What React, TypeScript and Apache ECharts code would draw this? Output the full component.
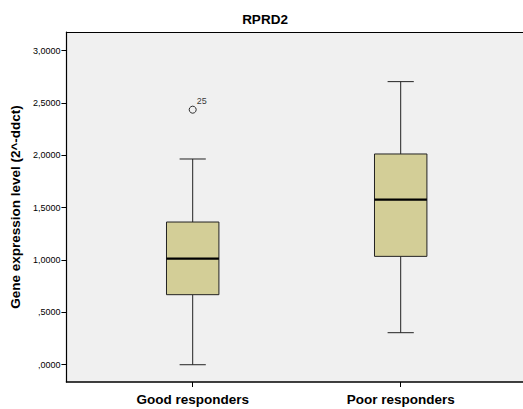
import React, { useEffect, useRef } from "react";
import * as echarts from "echarts";

const titleText = "RPRD2";
const yAxisName = "Gene expression level (2^-ddct)";
const categories = ["Good responders", "Poor responders"];
// [min, Q1, median, Q3, max]
const goodStats = [0.0, 0.669, 1.013, 1.363, 1.965];
const poorStats = [0.306, 1.035, 1.576, 2.013, 2.704];
const outlierCategory = [0];
const outlierValues = [2.436];
const outlierIds = ["25"];
const yTickValues = [0, 0.5, 1, 1.5, 2, 2.5, 3];
const yTickLabels = [",0000", ",5000", "1,0000", "1,5000", "2,0000", "2,5000", "3,0000"];
const yMin = -0.165;
const yMax = 3.178;

const FONT = "'Liberation Sans', Arial, sans-serif";

export default function App() {
  const ref = useRef<HTMLDivElement>(null);
  useEffect(() => {
    document.body.style.margin = "0";
    const chart = echarts.init(ref.current!, null, { renderer: "svg" });
    const boxData = [goodStats, poorStats].map((s, i) => [i, ...s]);
    const outlierData = outlierValues.map((v, i) => [outlierCategory[i], v]);
    const option: any = {
      animation: false,
      backgroundColor: "#ffffff",
      textStyle: { fontFamily: FONT },
      graphic: [
        {
          type: "text",
          x: 265,
          y: 19,
          style: {
            text: titleText,
            fontFamily: FONT,
            fontWeight: "bold",
            fontSize: 13.5,
            fill: "#000",
            align: "center",
            verticalAlign: "middle",
          },
        },
      ],
      grid: [
        { left: 65, right: 0, top: 32, bottom: 27, show: true, backgroundColor: "#f0f0f0", borderWidth: 0 },
        { left: 88.7, width: 416, top: 32, bottom: 27 },
      ],
      xAxis: [
        {
          gridIndex: 0,
          type: "value",
          min: 0,
          max: 1,
          position: "bottom",
          axisLine: { show: true, onZero: false, lineStyle: { color: "#000", width: 1.5 } },
          axisTick: { show: false },
          axisLabel: { show: false },
          splitLine: { show: false },
        },
        {
          gridIndex: 0,
          type: "value",
          min: 0,
          max: 1,
          position: "top",
          axisLine: { show: true, onZero: false, lineStyle: { color: "#000", width: 1.2 } },
          axisTick: { show: false },
          axisLabel: { show: false },
          splitLine: { show: false },
        },
        {
          gridIndex: 1,
          type: "category",
          data: categories,
          axisLine: { show: false, onZero: false },
          axisTick: { show: true, alignWithLabel: true, length: 5, lineStyle: { color: "#000" } },
          axisLabel: {
            margin: 10,
            color: "#000",
            fontFamily: FONT,
            fontWeight: "bold",
            fontSize: 13.5,
          },
          splitLine: { show: false },
        },
      ],
      yAxis: [
        {
          gridIndex: 0,
          type: "value",
          min: yMin,
          max: yMax,
          name: yAxisName,
          nameLocation: "middle",
          nameGap: 44,
          nameTextStyle: { color: "#000", fontFamily: FONT, fontWeight: "bold", fontSize: 13.5 },
          axisLine: { show: true, onZero: false, lineStyle: { color: "#000", width: 1.2 } },
          axisTick: { show: true, length: 5, customValues: yTickValues, lineStyle: { color: "#000" } },
          axisLabel: {
            show: true,
            margin: 6,
            customValues: yTickValues,
            color: "#000",
            fontFamily: FONT,
            fontSize: 9,
            formatter: (v: number) => {
              const idx = yTickValues.findIndex((t) => Math.abs(t - v) < 1e-9);
              return idx >= 0 ? yTickLabels[idx] : "";
            },
          },
          splitLine: { show: false },
        },
        {
          gridIndex: 1,
          type: "value",
          min: yMin,
          max: yMax,
          show: false,
          splitLine: { show: false },
        },
      ],
      series: [
        {
          type: "custom",
          xAxisIndex: 2,
          yAxisIndex: 1,
          data: boxData,
          z: 3,
          renderItem: (params: any, api: any) => {
            const x = api.value(0);
            const lo = api.coord([x, api.value(1)]);
            const q1 = api.coord([x, api.value(2)]);
            const md = api.coord([x, api.value(3)]);
            const q3 = api.coord([x, api.value(4)]);
            const hi = api.coord([x, api.value(5)]);
            const band = api.size([1, 0])[0];
            const bw = band * 0.252;
            const cw = bw / 2;
            const cx = lo[0];
            const stroke = { stroke: "#222", lineWidth: 1 };
            return {
              type: "group",
              children: [
                { type: "line", shape: { x1: cx, y1: hi[1], x2: cx, y2: q3[1] }, style: stroke },
                { type: "line", shape: { x1: cx, y1: q1[1], x2: cx, y2: lo[1] }, style: stroke },
                { type: "line", shape: { x1: cx - cw / 2, y1: hi[1], x2: cx + cw / 2, y2: hi[1] }, style: stroke },
                { type: "line", shape: { x1: cx - cw / 2, y1: lo[1], x2: cx + cw / 2, y2: lo[1] }, style: stroke },
                {
                  type: "rect",
                  shape: { x: cx - bw / 2, y: q3[1], width: bw, height: q1[1] - q3[1] },
                  style: { fill: "#d3ce97", stroke: "#222", lineWidth: 1 },
                },
                {
                  type: "line",
                  shape: { x1: cx - bw / 2, y1: md[1], x2: cx + bw / 2, y2: md[1] },
                  style: { stroke: "#000", lineWidth: 2.2 },
                },
              ],
            };
          },
        },
        {
          type: "scatter",
          xAxisIndex: 2,
          yAxisIndex: 1,
          data: outlierData,
          symbol: "circle",
          symbolSize: 7,
          z: 4,
          itemStyle: { color: "rgba(0,0,0,0)", borderColor: "#000", borderWidth: 1 },
          label: {
            show: true,
            position: [8, -9],
            formatter: (p: any) => outlierIds[p.dataIndex],
            color: "#000",
            fontFamily: FONT,
            fontSize: 9,
          },
        },
      ],
    };
    chart.setOption(option);
    return () => chart.dispose();
  }, []);
  return <div ref={ref} style={{ width: 523, height: 409 }} />;
}
